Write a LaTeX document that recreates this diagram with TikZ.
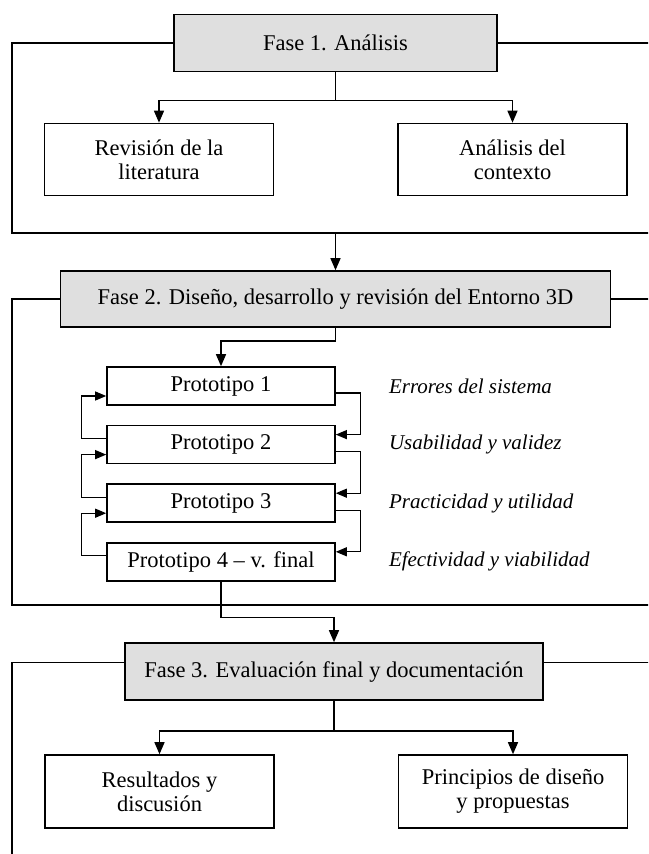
\documentclass[tikz,border=0pt]{standalone}
\usepackage{fontspec}
\setmainfont{Liberation Serif}
\usetikzlibrary{arrows.meta,positioning}

\begin{document}
\begin{tikzpicture}[
    x=1pt, y=-1pt,
    every node/.style={font=\fontsize{22.5}{24}\selectfont},
    fase/.style={rectangle, draw, line width=1.6pt, fill=gray!25, minimum height=57pt, inner sep=0pt, align=center},
    tarea/.style={rectangle, draw, line width=1.6pt, fill=white, minimum width=229pt, minimum height=72pt, inner sep=0pt, align=center},
    proto/.style={rectangle, draw, line width=1.6pt, fill=white, minimum width=228pt, minimum height=38pt, inner sep=0pt},
    nota/.style={font=\fontsize{21}{24}\selectfont\itshape, inner sep=0pt, anchor=west},
    marco/.style={line width=1.4pt},
    arrow/.style={-{Triangle[length=12pt,width=10pt]}, line width=1.4pt},
    vuelta/.style={-{Triangle[length=11pt,width=9pt]}, line width=1.1pt}
]
\useasboundingbox (0,0) rectangle (648,854);
\clip (0,0) rectangle (648,854);

% Fase 1
\node[fase, minimum width=323pt] (fase1) at (335.5,43) {Fase 1. Análisis};
\node[tarea] (revision) at (159,159.5) {Revisión de la\\literatura};
\node[tarea] (contexto) at (512.5,159.5) {Análisis del\\contexto};

% Fase 2
\node[fase, minimum width=550pt, minimum height=56pt] (fase2) at (335.5,299) {Fase 2. Diseño, desarrollo y revisión del Entorno 3D};
\node[proto] (p1) at (221,386) {Prototipo 1};
\node[proto, below=19pt of p1] (p2) {Prototipo 2};
\node[proto, below=19pt of p2] (p3) {Prototipo 3};
\node[proto, below=19pt of p3] (p4) {Prototipo 4 -- v. final};

% Notas de cada prototipo
\node[nota, right=53pt of p1] (n1) {Errores del sistema};
\node[nota, right=53pt of p2] (n2) {Usabilidad y validez};
\node[nota, right=53pt of p3] (n3) {Practicidad y utilidad};
\node[nota, right=53pt of p4] (n4) {Efectividad y viabilidad};

% Fase 3
\node[fase, minimum width=418pt] (fase3) at (334,671.5) {Fase 3. Evaluación final y documentación};
\node[tarea, minimum height=73pt] (resultados) at (159.5,791.5) {Resultados y\\discusión};
\node[tarea, minimum height=73pt] (principios) at (513,791.5) {Principios de diseño\\y propuestas};

% Marcos
\draw[marco] (fase1.west) -| (12,233) -- (660,233);
\draw[marco] (fase1.east) -- (660,43);
\draw[marco] (fase2.west) -| (12,605) -- (660,605);
\draw[marco] (fase2.east) -- (660,299);
\draw[marco] ([yshift=9pt]fase3.west) -| (12,870);
\draw[marco] ([yshift=9pt]fase3.east) -- (660,662.5);

% Flechas
\coordinate (f1bot) at (335.5,233);
\draw[arrow] (fase1.south) -- ++(0,28) -| (revision.north);
\draw[arrow] (fase1.south) -- ++(0,28) -| (contexto.north);
\draw[arrow] (f1bot) -- (fase2.north);
\draw[arrow] (fase2.south) -- ++(0,13) -| (p1.north);

\foreach \a/\b in {p1/p2, p2/p3, p3/p4} {
  \draw[vuelta] ([yshift=-7pt]\a.east) -- ++(25,0) |- ([yshift=10pt]\b.east);
  \draw[vuelta] ([yshift=6pt]\b.west) -- ++(-25,0) |- ([yshift=-10pt]\a.west);
}

\draw[arrow] (p4.south) -- ++(0,36) -| (fase3.north);
\draw[arrow] (fase3.south) -- ++(0,30) -| (resultados.north);
\draw[arrow] (fase3.south) -- ++(0,30) -| (principios.north);

\end{tikzpicture}
\end{document}
